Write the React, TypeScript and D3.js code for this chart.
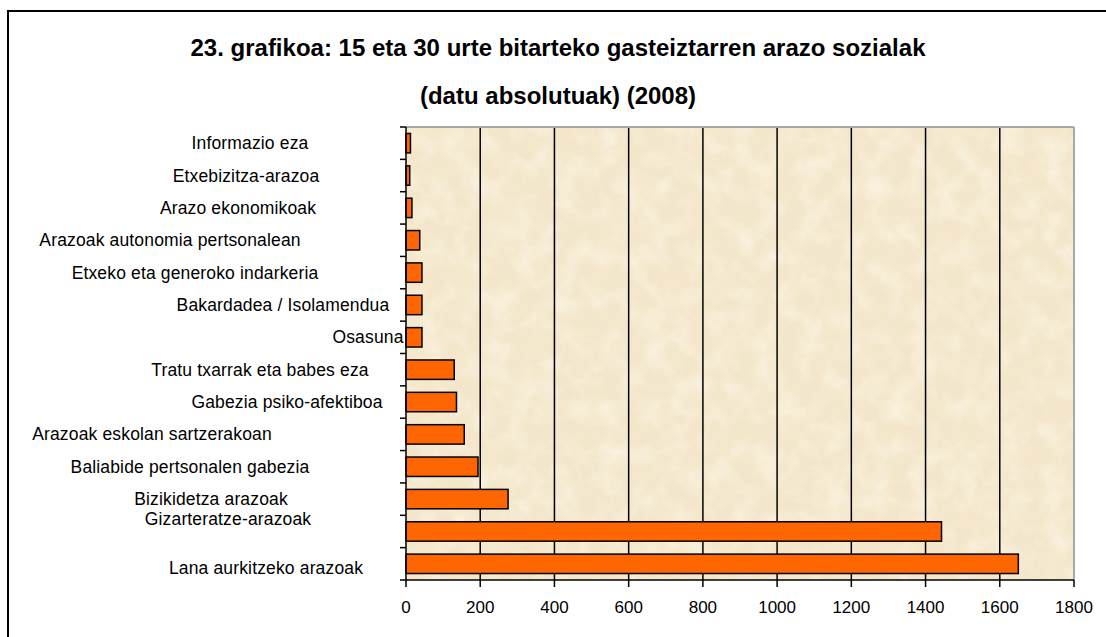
import React from "react";
import * as d3 from "d3";

const categories = [
  "Informazio eza",
  "Etxebizitza-arazoa",
  "Arazo ekonomikoak",
  "Arazoak autonomia pertsonalean",
  "Etxeko eta generoko indarkeria",
  "Bakardadea / Isolamendua",
  "Osasuna",
  "Tratu txarrak eta babes eza",
  "Gabezia psiko-afektiboa",
  "Arazoak eskolan sartzerakoan",
  "Baliabide pertsonalen gabezia",
  "Bizikidetza arazoak",
  "Gizarteratze-arazoak",
  "Lana aurkitzeko arazoak",
];
const values = [12, 10, 16, 37, 43, 43, 43, 130, 136, 157, 194, 275, 1443, 1650];
const xTicks = [0, 200, 400, 600, 800, 1000, 1200, 1400, 1600, 1800];
const titleLines = [
  "23. grafikoa: 15 eta 30 urte bitarteko gasteiztarren arazo sozialak",
  "(datu absolutuak) (2008)",
];

// layout: horizontal centre of each category label and small vertical nudges (as in the original)
const labelCx = [250, 246, 238, 170, 195, 283, 368, 260, 287, 152, 190, 211, 228, 266];
const labelDy = [0, 0, 0, 0, 0, 0, 0, 0, 0, 0, 0, 0, -12, 4];

export default function App() {
  const left = 406, right = 1074, top = 127, bottom = 580;
  const x = d3.scaleLinear().domain([0, 1800]).range([left, right]);
  const y = d3.scaleBand<string>().domain(categories).range([top, bottom]).paddingInner(0.4).paddingOuter(0.2);
  const yb = d3.scaleBand<string>().domain(categories).range([top, bottom]);
  const font = "Arial, 'Liberation Sans', sans-serif";
  return (
    <svg width={1106} height={637} style={{ position: "absolute", left: 0, top: 0, background: "#fff" }}>
      <defs>
        <filter id="light" x="0" y="0" width="100%" height="100%">
          <feTurbulence type="fractalNoise" baseFrequency="0.045" numOctaves={4} seed={7} result="n" />
          <feColorMatrix type="matrix" in="n"
            values="0 0 0 0 1  0 0 0 0 0.97  0 0 0 0 0.88  1.1 0 0 0 -0.45" result="c" />
          <feComposite in="c" in2="SourceGraphic" operator="in" />
        </filter>
        <filter id="dark" x="0" y="0" width="100%" height="100%">
          <feTurbulence type="fractalNoise" baseFrequency="0.06" numOctaves={3} seed={21} result="n" />
          <feColorMatrix type="matrix" in="n"
            values="0 0 0 0 0.86  0 0 0 0 0.76  0 0 0 0 0.58  0.9 0 0 0 -0.4" result="c" />
          <feComposite in="c" in2="SourceGraphic" operator="in" />
        </filter>
      </defs>
      <rect x={8} y={11} width={1110} height={640} fill="#fff" stroke="#000" strokeWidth={2} />
      {titleLines.map((t, i) => (
        <text key={i} x={558} y={47 + i * 48} textAnchor="middle" dominantBaseline="central"
          fontFamily={font} fontWeight="bold" fontSize={24} fill="#000">{t}</text>
      ))}
      <rect x={left} y={top} width={right - left} height={bottom - top} fill="#F4E7CB" />
      <rect x={left} y={top} width={right - left} height={bottom - top} fill="#fff" filter="url(#dark)" />
      <rect x={left} y={top} width={right - left} height={bottom - top} fill="#fff" filter="url(#light)" />
      {xTicks.slice(1, -1).map((t) => (
        <line key={t} x1={x(t)} x2={x(t)} y1={top} y2={bottom} stroke="#000" strokeWidth={1.5} />
      ))}
      <line x1={left} x2={right} y1={top} y2={top} stroke="#A8A8A8" strokeWidth={2} />
      <line x1={right} x2={right} y1={top} y2={bottom} stroke="#A8A8A8" strokeWidth={2} />
      {categories.map((c, i) => (
        <rect key={c} x={x(0)} y={y(c)!} width={x(values[i]) - x(0)} height={y.bandwidth()}
          fill="#FF6600" stroke="#000" strokeWidth={1.5} />
      ))}
      <line x1={left} x2={left} y1={top} y2={bottom} stroke="#000" strokeWidth={1.5} />
      {categories.map((c) => (
        <line key={c} x1={left - 6} x2={left} y1={yb(c)!} y2={yb(c)!} stroke="#000" strokeWidth={1.5} />
      ))}
      <line x1={left - 6} x2={left} y1={bottom} y2={bottom} stroke="#000" strokeWidth={1.5} />
      <line x1={left} x2={right} y1={bottom} y2={bottom} stroke="#000" strokeWidth={1.5} />
      {xTicks.map((t) => (
        <g key={t}>
          <line x1={x(t)} x2={x(t)} y1={bottom} y2={bottom + 7} stroke="#000" strokeWidth={1.5} />
          <text x={x(t)} y={607} textAnchor="middle" dominantBaseline="central" fontFamily={font}
            fontSize={17} fill="#000">{t}</text>
        </g>
      ))}
      {categories.map((c, i) => (
        <text key={c} x={labelCx[i]} y={yb(c)! + yb.bandwidth() / 2 + labelDy[i]} textAnchor="middle"
          dominantBaseline="central" fontFamily={font} fontSize={17.5} letterSpacing={0.15} fill="#000">{c}</text>
      ))}
    </svg>
  );
}
